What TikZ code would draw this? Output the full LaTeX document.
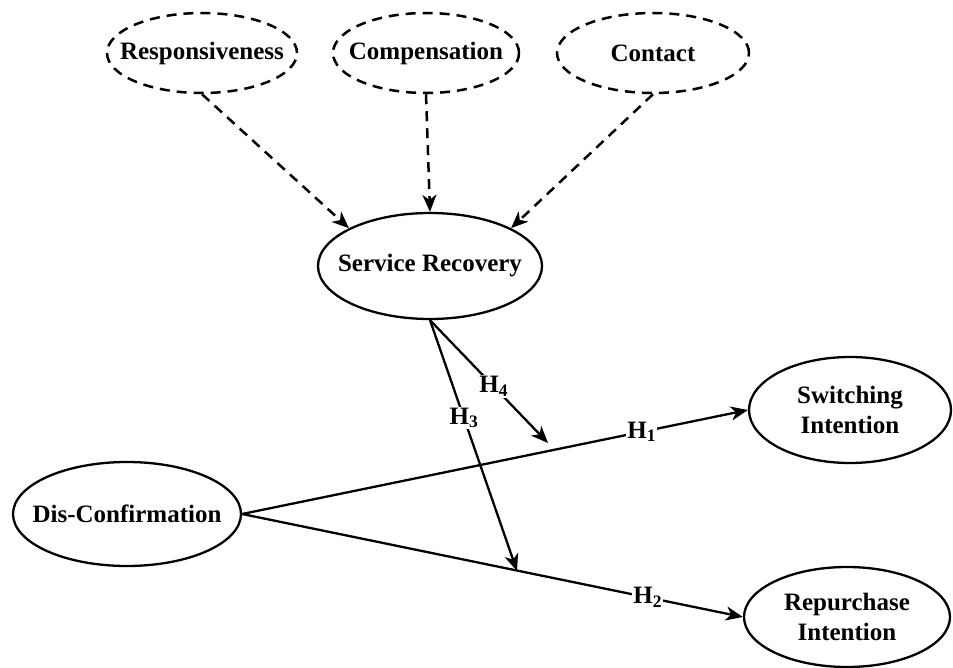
\documentclass[tikz,border=0pt]{standalone}
\usepackage{fontspec}
\setmainfont{Liberation Serif}
\usetikzlibrary{shapes.geometric,arrows.meta}
\begin{document}
\begin{tikzpicture}[x=1pt,y=-1pt,
  every node/.style={font=\fontsize{25}{30}\selectfont\bfseries, text=black},
  every label/.style={font=\fontsize{25}{30}\selectfont\bfseries, text=black, align=center, inner sep=0pt},
  construct/.style={ellipse, draw, line width=2.3pt, inner sep=0pt},
  dimension/.style={construct, dash pattern=on 10pt off 7pt, line width=2.5pt},
  solidarrow/.style={line width=2.3pt, -{Stealth[length=17pt,width=14pt,inset=5pt]}},
  dasharrow/.style={line width=2.5pt, dash pattern=on 10pt off 7pt, -{Stealth[length=17pt,width=14pt,inset=5pt]}},
  hlabel/.style={fill=white, inner sep=1pt}
]
\useasboundingbox (0,0) rectangle (953,668);

\node[dimension, minimum width=190pt, minimum height=80pt, label=center:{Responsiveness}] (resp) at (202,53) {};
\node[dimension, minimum width=186pt, minimum height=80pt, label=center:{Compensation}] (comp) at (426,53) {};
\node[dimension, minimum width=192pt, minimum height=80pt, label=center:{Contact}] (cont) at (653,53) {};

\node[construct, minimum width=224pt, minimum height=106pt, label=center:{Service Recovery}] (sr) at (430,266) {};
\node[construct, minimum width=228pt, minimum height=104pt, label=center:{Dis-Confirmation}] (dc) at (127,514) {};
\node[construct, minimum width=202pt, minimum height=106pt, label=center:{Switching\\Intention}] (si) at (850,410) {};
\node[construct, minimum width=206pt, minimum height=100pt, label=center:{Repurchase\\Intention}] (ri) at (847,617) {};

\draw[dasharrow] (resp.south) -- (sr.155);
\draw[dasharrow] (comp.south) -- (sr.north);
\draw[dasharrow] (cont.south) -- (sr.25);

\coordinate (h3end) at (517,571);
\coordinate (h4end) at (548,443);

\draw[solidarrow] (dc.east) -- node[hlabel, pos=0.79] {H\textsubscript{1}} (si.west);
\draw[solidarrow] (dc.east) -- node[hlabel, pos=0.81] {H\textsubscript{2}} (ri.west);
\draw[solidarrow] (sr.south) -- node[hlabel, pos=0.39] {H\textsubscript{3}} (h3end);
\draw[solidarrow] (sr.south) -- node[hlabel, pos=0.54] {H\textsubscript{4}} (h4end);
\end{tikzpicture}
\end{document}
